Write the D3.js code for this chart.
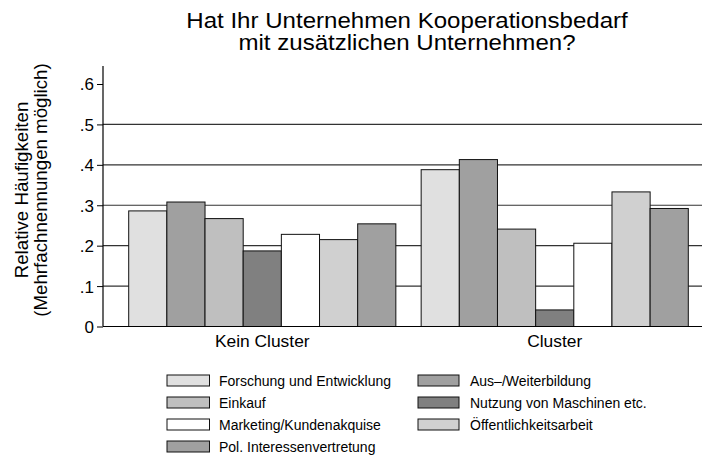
<!DOCTYPE html>
<html>
<head>
<meta charset="utf-8">
<script src="https://cdn.jsdelivr.net/npm/d3@7"></script>
<style>
body{margin:0;background:#fff;}
text{font-family:"Liberation Sans",Arial,sans-serif;fill:#000;}
</style>
</head>
<body>
<svg id="chart" width="702" height="459"></svg>
<script>
// data
var groups = ["Kein Cluster","Cluster"];
var series = ["Forschung und Entwicklung","Aus\u2013/Weiterbildung","Einkauf","Nutzung von Maschinen etc.","Marketing/Kundenakquise","\u00D6ffentlichkeitsarbeit","Pol. Interessenvertretung"];
var keinCluster = [0.286,0.308,0.267,0.187,0.228,0.215,0.254];
var cluster = [0.388,0.413,0.241,0.041,0.206,0.333,0.292];
var yTicks = [0,0.1,0.2,0.3,0.4,0.5,0.6];
var titleLines = ["Hat Ihr Unternehmen Kooperationsbedarf","mit zus\u00E4tzlichen Unternehmen?"];
var yTitleLines = ["Relative H\u00E4ufigkeiten","(Mehrfachnennungen m\u00F6glich)"];
var colors = ["#e0e0e0","#a0a0a0","#bfbfbf","#808080","#ffffff","#d0d0d0","#a0a0a0"];

var svg = d3.select("#chart");
var values = [keinCluster,cluster];

var y = d3.scaleLinear().domain([0,0.6]).range([326.5,84]);
// groups start at ~128.7 and ~421
var x0 = d3.scaleBand().domain(groups).range([128.7,688.3]).paddingInner(25.3/292.3).paddingOuter(0);
var x1 = d3.scaleBand().domain(d3.range(series.length)).range([0,x0.bandwidth()]);

// grid
svg.append("g").selectAll("line")
	.data(yTicks.filter(d=>d>0 && d<0.6))
	.enter().append("line")
	.attr("x1",103).attr("x2",702)
	.attr("y1",d=>y(d)).attr("y2",d=>y(d))
	.style("stroke","#333").style("stroke-width",1.2);

// bars
var g = svg.append("g").selectAll("g")
	.data(groups)
	.enter().append("g")
	.attr("transform",d=>"translate("+x0(d)+",0)");
g.selectAll("rect")
	.data((d,i)=>values[i].map((v,j)=>({v:v,j:j})))
	.enter().append("rect")
	.attr("x",d=>x1(d.j))
	.attr("y",d=>y(d.v))
	.attr("width",x1.bandwidth())
	.attr("height",d=>y(0)-y(d.v))
	.style("fill",d=>colors[d.j])
	.style("stroke","#111")
	.style("stroke-width",1);

// baseline
svg.append("line").attr("x1",103).attr("x2",702).attr("y1",y(0)).attr("y2",y(0))
	.style("stroke","#000").style("stroke-width",1.2);

// y axis
var yAxis = d3.axisLeft(y).tickValues(yTicks).tickSize(6).tickPadding(3)
	.tickFormat(d=>d===0?"0":d3.format(".1f")(d).replace(/^0/,""));
var ax = svg.append("g").attr("transform","translate(103,0)").call(yAxis);
ax.select(".domain").remove();
ax.selectAll("line").style("stroke","#000");
ax.selectAll("text").style("font-size","17px").style("font-family","'Liberation Sans',Arial,sans-serif").attr("dy","0.35em");
svg.append("line").attr("x1",103).attr("x2",103).attr("y1",66).attr("y2",y(0))
	.style("stroke","#000").style("stroke-width",1.2);

// group labels
svg.selectAll(".glab").data(groups).enter().append("text")
	.attr("class","glab")
	.attr("x",d=>x0(d)+x0.bandwidth()/2)
	.attr("y",347)
	.attr("text-anchor","middle")
	.style("font-size","17.4px")
	.text(d=>d);

// title (slightly widened like the reference)
svg.append("g").attr("transform","translate(407,0) scale(1.12,1)")
	.selectAll("text").data(titleLines).enter().append("text")
	.attr("x",0).attr("y",(d,i)=>28+i*22.5)
	.attr("text-anchor","middle").style("font-size","21.5px")
	.text(d=>d);

// y title
svg.append("g").attr("transform","translate(0,190) rotate(-90)")
	.selectAll("text").data(yTitleLines).enter().append("text")
	.attr("x",0).attr("y",(d,i)=>28+i*18.5)
	.attr("text-anchor","middle").style("font-size","18.7px")
	.text(d=>d);

// legend
var legend = svg.append("g").selectAll("g")
	.data(series)
	.enter().append("g")
	.attr("transform",(d,i)=>{
		var col = i%2, row = Math.floor(i/2);
		return "translate("+(col?418:167)+","+(375+row*22)+")";
	});
legend.append("rect")
	.attr("width",(d,i)=>i%2?41:42.5).attr("height",11)
	.style("fill",(d,i)=>colors[i])
	.style("stroke","#111").style("stroke-width",1);
legend.append("text")
	.attr("x",52)
	.attr("y",10.5)
	.style("font-size","14px")
	.text(d=>d);
</script>
</body>
</html>
